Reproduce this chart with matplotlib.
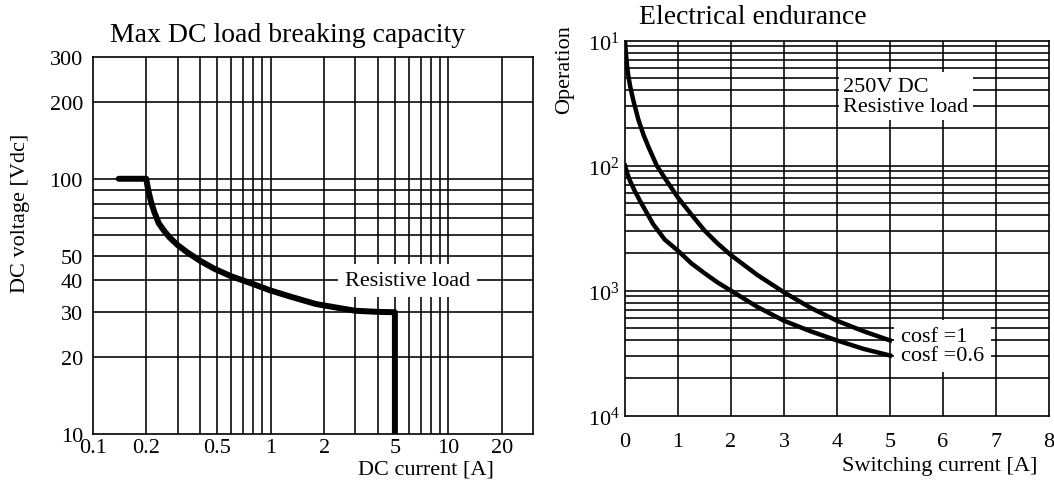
import numpy as np
import matplotlib
matplotlib.use('Agg')
import matplotlib.pyplot as plt
from matplotlib.ticker import NullLocator

plt.rcParams['font.family'] = ['Liberation Serif', 'DejaVu Serif']
plt.rcParams['mathtext.fontset'] = 'custom'
plt.rcParams['mathtext.rm'] = 'Liberation Serif'

# --- left chart: max DC load breaking capacity
dc_current = [0.14, 0.2, 0.203, 0.207, 0.213, 0.222, 0.235, 0.25, 0.27, 0.3, 0.34,
              0.4, 0.48, 0.6, 0.75, 1.0, 1.3, 1.8, 2.4, 3.0, 4.0, 5.0, 5.0]
dc_voltage = [100, 100, 94, 88, 81, 74, 67, 63, 59, 55, 51.5,
              47.8, 44.5, 41.5, 39.3, 36.5, 34.5, 32.3, 31.2, 30.4, 30.1, 30, 10]
dc_xticks = [0.1, 0.2, 0.5, 1, 2, 5, 10, 20]
dc_xticklabels = ['0.1', '0.2', '0.5', '1', '2', '5', '10', '20']
dc_yticks = [10, 20, 30, 40, 50, 100, 200, 300]
dc_yticklabels = ['10', '20', '30', '40', '50', '100', '200', '300']
dc_grid_x = [0.2, 0.3, 0.4, 0.5, 0.6, 0.7, 0.8, 0.9, 1, 2, 3, 4, 5, 6, 7, 8, 9, 10, 20]
dc_grid_y = [20, 30, 40, 50, 60, 70, 80, 90, 100, 200]

# --- right chart: electrical endurance
cos1_x = [0, 0.02, 0.04, 0.062, 0.1, 0.157, 0.25, 0.345, 0.45, 0.6, 0.8, 1.0,
          1.25, 1.5, 1.75, 2.0, 2.5, 3.0, 3.5, 4.0, 4.5, 5.0]
cos1_y = [10, 13, 16, 19, 23.5, 30, 42.5, 56, 72, 100, 135, 180,
          245, 330, 420, 520, 750, 1030, 1370, 1740, 2110, 2500]
cos06_x = [0, 0.04, 0.094, 0.18, 0.283, 0.4, 0.53, 0.75, 1.0, 1.25, 1.5, 1.75,
           2.0, 2.5, 3.0, 3.5, 4.0, 4.5, 5.0]
cos06_y = [100, 114, 132, 158, 191, 234, 293, 390, 479, 603, 724, 861,
           1000, 1350, 1740, 2110, 2500, 2920, 3300]
op_xticks = [0, 1, 2, 3, 4, 5, 6, 7, 8]
op_yticks = [10, 100, 1000, 10000]
op_yticklabels = [r'$\mathregular{10^{1}}$', r'$\mathregular{10^{2}}$',
                  r'$\mathregular{10^{3}}$', r'$\mathregular{10^{4}}$']

W, H = 1054, 481
fig = plt.figure(figsize=(W / 100, H / 100), dpi=100)


def rect(x0, y0, x1, y1):
    return [x0 / W, 1 - y1 / H, (x1 - x0) / W, (y1 - y0) / H]


def fpos(x, y):
    return x / W, 1 - y / H


ax1 = fig.add_axes(rect(92.7, 58, 533.3, 435))
ax2 = fig.add_axes(rect(625, 41.7, 1049, 416.7))

# left
ax1.set_xscale('log')
ax1.set_yscale('log')
ax1.set_xlim(0.1, 30)
ax1.set_ylim(10, 300)
ax1.set_xticks(dc_xticks)
ax1.set_xticklabels(dc_xticklabels)
ax1.set_yticks(dc_yticks)
ax1.set_yticklabels(dc_yticklabels)
ax1.xaxis.set_minor_locator(NullLocator())
ax1.yaxis.set_minor_locator(NullLocator())
for x in dc_grid_x:
    ax1.axvline(x, color='k', lw=1.15, zorder=1)
for y in dc_grid_y:
    ax1.axhline(y, color='k', lw=1.15, zorder=1)
ax1.plot(dc_current, dc_voltage, color='k', lw=4.3,
         solid_capstyle='round', solid_joinstyle='round', zorder=3)
ax1.text(5.87, 40, 'Resistive load', ha='center', va='center', fontsize=16,
         bbox=dict(facecolor='white', edgecolor='none', pad=5), zorder=4)
ax1.tick_params(axis='both', length=0, labelsize=16)
ax1.tick_params(axis='x', pad=3)
ax1.tick_params(axis='y', pad=7)

# right
ax2.set_yscale('log')
ax2.set_xlim(0, 8)
ax2.set_ylim(1e4, 1e1)
ax2.set_xticks(op_xticks)
ax2.set_yticks(op_yticks)
ax2.set_yticklabels(op_yticklabels)
ax2.yaxis.set_minor_locator(NullLocator())
for x in op_xticks[1:-1]:
    ax2.axvline(x, color='k', lw=1.15, zorder=1)
op_grid = [10 ** (n + 1) / k for n in (1, 2, 3) for k in range(2, 10)] + [100, 1000]
for y in op_grid:
    ax2.axhline(y, color='k', lw=1.15, zorder=1)
ax2.plot(cos1_x, cos1_y, color='k', lw=3.2, solid_joinstyle='round', zorder=3)
ax2.plot(cos06_x, cos06_y, color='k', lw=3.2, solid_joinstyle='round', zorder=3)
ax2.text(4.12, 27.9, '250V DC\nResistive load', ha='left', va='center',
         fontsize=16, linespacing=1.1,
         bbox=dict(facecolor='white', edgecolor='none', pad=3), zorder=4)
ax2.text(5.2, 2770, 'cosf =1\ncosf =0.6', ha='left', va='center',
         fontsize=16, linespacing=1.05,
         bbox=dict(facecolor='white', edgecolor='none', pad=5), zorder=4)
ax2.tick_params(axis='both', length=0, labelsize=16)
ax2.tick_params(axis='x', pad=12)
ax2.tick_params(axis='y', pad=4)

for ax in (ax1, ax2):
    for s in ax.spines.values():
        s.set_linewidth(1.2)

fig.text(*fpos(288, 35), 'Max DC load breaking capacity', fontsize=20, ha='center', va='center')
fig.text(*fpos(753, 18), 'Electrical endurance', fontsize=20, ha='center', va='center')
fig.text(*fpos(20.5, 213), 'DC voltage [Vdc]', fontsize=16, rotation=90, ha='center', va='center')
fig.text(*fpos(426, 470), 'DC current [A]', fontsize=16, ha='center', va='center')
fig.text(*fpos(565, 70), 'Operation', fontsize=16, rotation=90, ha='center', va='center')
fig.text(*fpos(940, 466), 'Switching current [A]', fontsize=16, ha='center', va='center')

fig.savefig('out.png', dpi=100, facecolor='white')
